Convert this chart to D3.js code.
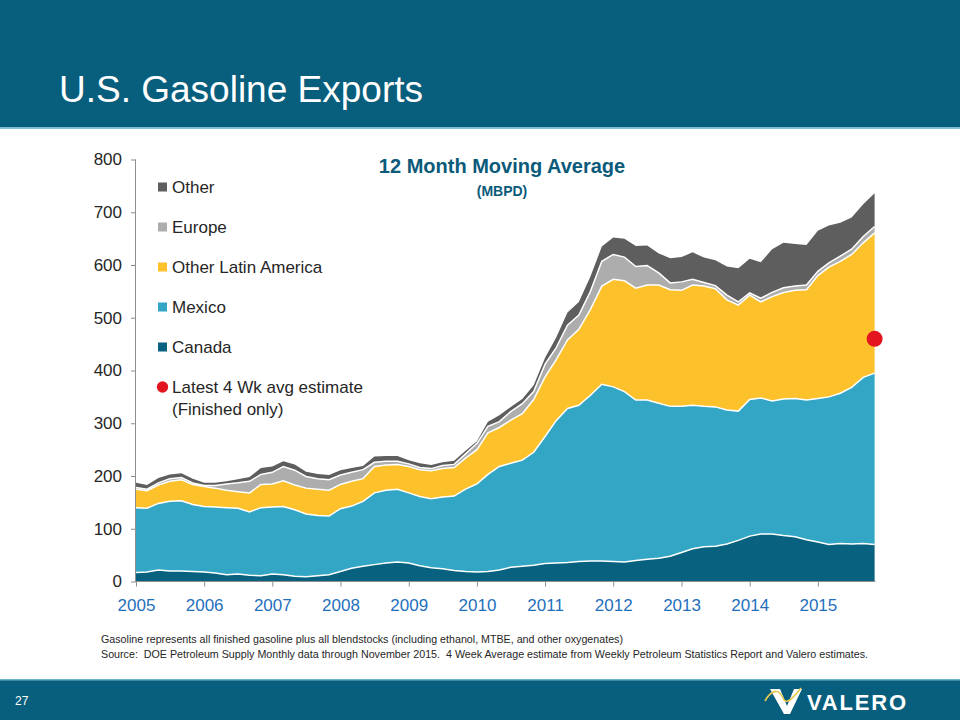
<!DOCTYPE html>
<html><head><meta charset="utf-8">
<script src="https://cdn.jsdelivr.net/npm/d3@7"></script>
<style>
body{margin:0;background:#fff}
svg{display:block}
text{font-family:"Liberation Sans",Arial,sans-serif}
</style>
</head><body>
<svg id="c" width="960" height="720"></svg>
<script>
// ---- data (12-month moving average, MBPD), bi-monthly readings ----
const months = ["2005-01","2005-03","2005-05","2005-07","2005-09","2005-11",
"2006-01","2006-03","2006-05","2006-07","2006-09","2006-11",
"2007-01","2007-03","2007-05","2007-07","2007-09","2007-11",
"2008-01","2008-03","2008-05","2008-07","2008-09","2008-11",
"2009-01","2009-03","2009-05","2009-07","2009-09","2009-11",
"2010-01","2010-03","2010-05","2010-07","2010-09","2010-11",
"2011-01","2011-03","2011-05","2011-07","2011-09","2011-11",
"2012-01","2012-03","2012-05","2012-07","2012-09","2012-11",
"2013-01","2013-03","2013-05","2013-07","2013-09","2013-11",
"2014-01","2014-03","2014-05","2014-07","2014-09","2014-11",
"2015-01","2015-03","2015-05","2015-07","2015-09","2015-11"];
const canada = [17,18,22,20,20,19,18,16,13,14,12,11,14,13,10,9,11,13,19,25,29,32,35,37,35,30,26,24,21,19,18,19,22,27,29,31,34,35,36,38,39,39,38,37,40,42,44,48,55,62,66,67,71,78,86,90,90,87,85,79,75,70,72,71,72,70];
const mexico = [123,121,126,132,133,127,124,125,127,125,120,129,127,129,126,119,114,111,119,118,123,136,138,138,133,131,131,136,141,156,167,184,196,197,201,214,241,270,292,296,314,335,331,323,304,302,294,284,277,272,266,264,254,245,259,258,252,259,262,265,272,280,285,297,315,325];
const otherLatAm = [35,33,35,38,40,38,38,36,33,31,36,44,44,49,47,49,50,49,46,47,43,50,48,47,50,51,53,54,54,59,65,79,74,82,88,100,113,115,130,144,163,186,204,210,212,218,224,221,220,228,228,224,209,201,198,182,198,202,205,209,233,246,250,252,255,266];
const europe = [3,3,4,5,4,3,2,5,12,17,22,19,22,27,28,22,20,20,18,17,17,8,7,6,5,4,4,6,6,8,12,12,11,16,19,15,24,23,28,27,34,47,47,45,41,37,23,13,16,11,7,6,9,6,4,7,8,9,8,9,8,8,10,10,12,12];
const other = [9,8,9,8,8,8,5,5,5,7,8,12,11,10,11,9,9,9,9,8,7,11,10,10,7,8,7,6,7,6,4,9,12,9,9,12,12,19,24,25,28,28,32,35,39,38,37,47,47,51,47,48,54,64,65,68,82,85,80,76,77,71,63,60,61,63];
const seriesNames = ["Canada","Mexico","Other Latin America","Europe","Other"];
const seriesColors = ["#07617f","#33a6c5","#fdc22b","#adadad","#5e5e5e"];
const yTicks = [0,100,200,300,400,500,600,700,800];
const xTickYears = ["2005","2006","2007","2008","2009","2010","2011","2012","2013","2014","2015"];
const estimateMonth = "2015-11";
const estimateValue = 460;

const svg = d3.select("#c");
const parse = d3.timeParse("%Y-%m");
const teal = "#085e7d";

// banners
svg.append("rect").attr("x",0).attr("y",0).attr("width",960).attr("height",128).attr("fill",teal);
svg.append("rect").attr("x",0).attr("y",127).attr("width",960).attr("height",2).attr("fill","#7fc0d3");
svg.append("text").attr("x",59).attr("y",102).attr("fill","#fff").attr("font-size",37).text("U.S. Gasoline Exports");
svg.append("rect").attr("x",0).attr("y",680).attr("width",960).attr("height",40).attr("fill",teal);
svg.append("rect").attr("x",0).attr("y",679).attr("width",960).attr("height",1.5).attr("fill","#6fb3c8");
svg.append("text").attr("x",15).attr("y",705).attr("fill","#fff").attr("font-size",12)
  .attr("style","font-family:'Liberation Sans Narrow','Liberation Sans',sans-serif").text("27");

// logo
const logo = svg.append("g");
logo.append("path").attr("d","M770,689 L780,689 L787,706 L794,689 L802,689 L790,714 L784,714 Z").attr("fill","#fff");
logo.append("path").attr("d","M765,701 C771,690 779,688 783,698 C786,706 793,698 801,688").attr("fill","none").attr("stroke","#e6c84a").attr("stroke-width",1.6);
logo.append("text").attr("x",807).attr("y",710).attr("fill","#fff").attr("font-size",22).attr("font-weight","bold")
  .attr("textLength",99).attr("lengthAdjust","spacing").text("VALERO");

// scales
const x = d3.scaleTime().domain([new Date(2005,0,1), new Date(2016,0,1)]).range([136,886]);
const y = d3.scaleLinear().domain([0,800]).range([581.5,159.5]);

const rows = months.map((m,i)=>({date:parse(m), Canada:canada[i], Mexico:mexico[i],
  "Other Latin America":otherLatAm[i], Europe:europe[i], Other:other[i]}));
const stack = d3.stack().keys(seriesNames)(rows);

const area = d3.area().x(d=>x(d.data.date)).y0(d=>y(d[0])).y1(d=>y(d[1]));
const line = d3.line().x(d=>x(d.data.date)).y(d=>y(d[1]));
const g = svg.append("g");
stack.forEach((s,i)=>{
  g.append("path").attr("d",area(s)).attr("fill",seriesColors[i]);
});
stack.forEach((s,i)=>{
  if(i<stack.length-1) g.append("path").attr("d",line(s)).attr("fill","none").attr("stroke","#fff").attr("stroke-width",1.5);
});

// axes
const axisColor = "#8e8e8e";
const ya = svg.append("g").attr("transform","translate(136,0)")
  .call(d3.axisLeft(y).tickValues(yTicks).tickSize(5).tickPadding(9).tickFormat(d3.format("d")));
ya.select(".domain").attr("stroke",axisColor).attr("d","M-0.5,159.5V581.5");
ya.selectAll(".tick line").attr("stroke",axisColor);
ya.selectAll("text").attr("font-size",17).attr("fill","#262626").attr("font-family","Liberation Sans, Arial, sans-serif");

const xa = svg.append("g").attr("transform","translate(0,581.5)")
  .call(d3.axisBottom(x).tickValues(xTickYears.map(s=>new Date(+s,0,1))).tickSize(5).tickPadding(12).tickFormat(d3.timeFormat("%Y")));
xa.select(".domain").attr("stroke",axisColor).attr("d","M135.5,0H875.5");
xa.selectAll(".tick line").attr("stroke",axisColor);
xa.selectAll("text").attr("font-size",17).attr("fill","#1f6fbd").attr("font-family","Liberation Sans, Arial, sans-serif");

// estimate dot
svg.append("circle").attr("cx",x(parse(estimateMonth))).attr("cy",y(estimateValue)).attr("r",8).attr("fill","#e3161f");

// chart title
svg.append("text").attr("x",502).attr("y",173).attr("text-anchor","middle").attr("font-size",20).attr("font-weight","bold")
  .attr("fill","#0a5a7a").text("12 Month Moving Average");
svg.append("text").attr("x",502).attr("y",196).attr("text-anchor","middle").attr("font-size",14).attr("font-weight","bold")
  .attr("fill","#0a5a7a").text("(MBPD)");

// legend
const legendItems = ["Other","Europe","Other Latin America","Mexico","Canada"];
legendItems.forEach((name,i)=>{
  const cy = 187 + i*40;
  const ci = seriesNames.indexOf(name);
  svg.append("rect").attr("x",158).attr("y",cy-4.5).attr("width",9).attr("height",9).attr("fill",seriesColors[ci]);
  svg.append("text").attr("x",172).attr("y",cy+6).attr("font-size",17).attr("fill","#262626").text(name);
});
svg.append("circle").attr("cx",162.5).attr("cy",387).attr("r",5.7).attr("fill","#e3161f");
svg.append("text").attr("x",172).attr("y",393).attr("font-size",17).attr("fill","#262626").text("Latest 4 Wk avg estimate");
svg.append("text").attr("x",172).attr("y",415).attr("font-size",17).attr("fill","#262626").text("(Finished only)");

// footnotes
const fn = "font-family:'Liberation Sans Narrow','Liberation Sans',sans-serif;white-space:pre";
svg.append("text").attr("x",101).attr("y",643).attr("font-size",11).attr("fill","#262626").attr("style",fn)
  .attr("textLength",522).attr("lengthAdjust","spacingAndGlyphs")
  .text("Gasoline represents all finished gasoline plus all blendstocks (including ethanol, MTBE, and other oxygenates)");
svg.append("text").attr("x",101).attr("y",658).attr("font-size",11).attr("fill","#262626").attr("style",fn)
  .attr("textLength",767).attr("lengthAdjust","spacingAndGlyphs")
  .text("Source:  DOE Petroleum Supply Monthly data through November 2015.  4 Week Average estimate from Weekly Petroleum Statistics Report and Valero estimates.");
</script>
</body></html>
